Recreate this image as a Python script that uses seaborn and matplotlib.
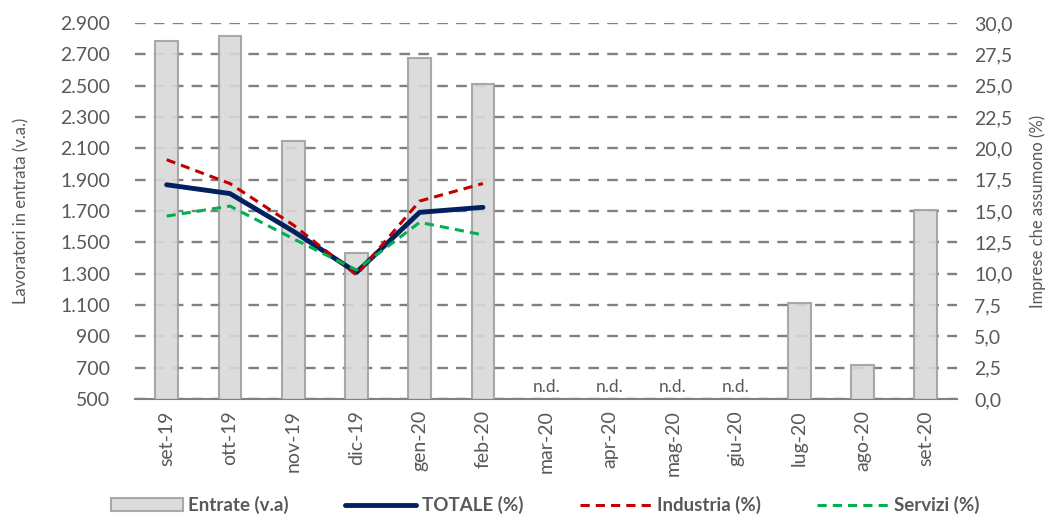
import matplotlib.pyplot as plt
import matplotlib.ticker as mticker
import numpy as np
import pandas as pd
import seaborn as sns

mesi = ["set-19", "ott-19", "nov-19", "dic-19", "gen-20", "feb-20", "mar-20",
        "apr-20", "mag-20", "giu-20", "lug-20", "ago-20", "set-20"]
entrate = [2785, 2815, 2150, 1430, 2680, 2510, np.nan, np.nan, np.nan, np.nan, 1110, 720, 1710]
totale = [17.1, 16.4, 13.4, 10.1, 14.9, 15.3] + [np.nan] * 7
industria = [19.1, 17.2, 13.9, 9.9, 15.8, 17.2] + [np.nan] * 7
servizi = [14.6, 15.4, 12.8, 10.3, 14.1, 13.1] + [np.nan] * 7
nd_mesi = ["mar-20", "apr-20", "mag-20", "giu-20"]

sns.set_style("white")
plt.rcParams["font.family"] = ["Lato", "DejaVu Sans"]
testo = "#595959"

df = pd.DataFrame({"mese": mesi, "entrate": entrate, "totale": totale,
                   "industria": industria, "servizi": servizi})
df["pos"] = np.arange(len(df))

fig = plt.figure(figsize=(10.59, 5.26), dpi=100)
ax = fig.add_axes([0.1275, 0.2414, 0.7765, 0.7146])
ax2 = ax.twinx()

sns.barplot(data=df, x="mese", y="entrate", ax=ax, color="#d9d9d9",
            edgecolor="#a0a0a0", linewidth=1.5, width=0.36, alpha=0.9,
            saturation=1, label="Entrate (v.a)", zorder=3)
ax.set_ylim(500, 2900)
ax.set_yticks(np.arange(500, 2901, 200))
ax.yaxis.set_major_formatter(mticker.FuncFormatter(lambda v, p: f"{v:,.0f}".replace(",", ".")))
ax.grid(axis="y", color="#808080", linestyle=(0, (4.5, 3.5)), linewidth=1.7, zorder=0)
ax.set_axisbelow(True)

sns.lineplot(data=df, x="pos", y="totale", ax=ax2, color="#002060", linewidth=3.5,
             label="TOTALE (%)", legend=False)
sns.lineplot(data=df, x="pos", y="industria", ax=ax2, color="#c00000", linewidth=2.2,
             linestyle=(0, (3, 2)), label="Industria (%)", legend=False)
sns.lineplot(data=df, x="pos", y="servizi", ax=ax2, color="#00b050", linewidth=2.2,
             linestyle=(0, (3, 2)), label="Servizi (%)", legend=False)
ax2.set_ylim(0, 30)
ax2.set_yticks(np.arange(0, 30.1, 2.5))
ax2.yaxis.set_major_formatter(mticker.FuncFormatter(lambda v, p: f"{v:.1f}".replace(".", ",")))
ax.set_xlim(-0.5, len(mesi) - 0.5)

for n in nd_mesi:
    ax.text(mesi.index(n), 525, "n.d.", ha="center", va="bottom", fontsize=12.5, color=testo)

for a in (ax, ax2):
    for s in ("top", "left", "right"):
        a.spines[s].set_visible(False)
    a.tick_params(length=0, labelsize=14, colors=testo)
ax.spines["bottom"].set_color("#808080")
ax.spines["bottom"].set_linewidth(1.5)
ax2.spines["bottom"].set_visible(False)
ax.tick_params(axis="x", rotation=90, pad=8)
ax.tick_params(axis="y", pad=18)
ax2.tick_params(axis="y", pad=12)

ax.set_xlabel("")
ax.set_ylabel("Lavoratori in entrata (v.a.)", fontsize=12, color=testo, labelpad=22)
ax2.set_ylabel("Imprese che assumono (%)", fontsize=12, color=testo, labelpad=12)

h1, l1 = ax.get_legend_handles_labels()
h2, l2 = ax2.get_legend_handles_labels()
if ax.get_legend() is not None:
    ax.get_legend().remove()
fig.legend(h1 + h2, l1 + l2, loc="lower center", bbox_to_anchor=(0.515, -0.01), ncol=4,
           frameon=False, handlelength=3.8, handletextpad=0.3, columnspacing=3.0,
           prop={"size": 13.5, "weight": "bold"}, labelcolor=testo)

fig.savefig("out.png", dpi=100)
